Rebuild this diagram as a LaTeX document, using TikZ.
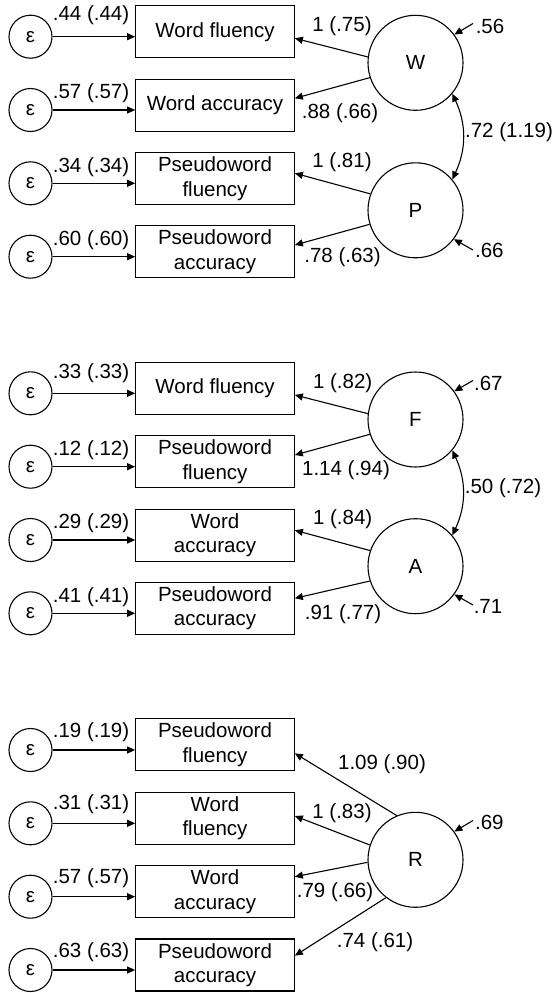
\documentclass[tikz,border=0pt]{standalone}
\usepackage{fontspec}
\setmainfont{Liberation Sans}
\usetikzlibrary{arrows.meta}
\begin{document}
\begin{tikzpicture}[x=1pt,y=-1pt,
  every node/.style={font=\fontsize{20.5}{24.5}\selectfont},
  obs/.style={draw, line width=1.1pt, minimum width=158.6pt, minimum height=52pt, align=center, inner sep=0pt},
  err/.style={draw, circle, line width=1.1pt, minimum size=43pt, inner sep=0pt},
  lat/.style={draw, circle, line width=1.1pt, minimum size=95pt, inner sep=0pt},
  lbl/.style={inner sep=0pt},
  arr/.style={line width=1.1pt, -{Triangle[length=8pt,width=7pt]}},
  dbl/.style={line width=1.1pt, {Triangle[length=8pt,width=7pt]}-{Triangle[length=8pt,width=7pt]}},
]
\useasboundingbox (0,0) rectangle (553,993);

% ---------------- Panel 1 ----------------
\node[obs] (t1) at (215,31.7) {Word fluency};
\node[obs] (t2) at (215,105.2) {Word accuracy};
\node[obs] (t3) at (215,178.5) {Pseudoword\\fluency};
\node[obs] (t4) at (215,251.8) {Pseudoword\\accuracy};
\node[err] (te1) at (30.5,36.7) {ε};
\node[err] (te2) at (30.5,110) {ε};
\node[err] (te3) at (30.5,183.3) {ε};
\node[err] (te4) at (30.5,256.7) {ε};
\draw[arr] (te1) -- (te1 -| t1.west);
\draw[arr] (te2) -- (te2 -| t2.west);
\draw[arr] (te3) -- (te3 -| t3.west);
\draw[arr] (te4) -- (te4 -| t4.west);
\node[lbl] (tl1) at (91,15) {.44 (.44)};
\node[lbl] (tl2) at (91,93) {.57 (.57)};
\node[lbl] (tl3) at (91,167) {.34 (.34)};
\node[lbl] (tl4) at (91,240) {.60 (.60)};
\node[lat] (W) at (415.5,62.8) {W};
\node[lat] (P) at (415.5,210.3) {P};
\draw[arr] (W.173.5) -- ([yshift=-6.6pt]t1.east);
\draw[arr] (W.198.6) -- ([yshift=6.9pt]t2.east);
\draw[arr] (P.160.6) -- ([yshift=5.2pt]t3.east);
\draw[arr] (P.197.7) -- ([yshift=6.8pt]t4.east);
\node[lbl] (tw1) at (342,26) {1 (.75)};
\node[lbl] (tw2) at (340,113.3) {.88 (.66)};
\node[lbl] (tp1) at (342,162.3) {1 (.81)};
\node[lbl] (tp2) at (342.5,257.3) {.78 (.63)};
\coordinate (rW) at (473,23.5);
\coordinate (rP) at (473,250);
\draw[arr] (rW) -- (W.36);
\draw[arr] (rP) -- (P.-37);
\node[lbl] (rWl) at (490,26.7) {.56};
\node[lbl] (rPl) at (489.3,250) {.66};
\draw[dbl] (W.-40) to[out=-65,in=65] (P.40);
\node[lbl] (cWP) at (509,131.7) {.72 (1.19)};

% ---------------- Panel 2 ----------------
\node[obs] (m1) at (215,388.3) {Word fluency};
\node[obs] (m2) at (215,461.7) {Pseudoword\\fluency};
\node[obs] (m3) at (215,535.3) {Word\\accuracy};
\node[obs] (m4) at (215,608.3) {Pseudoword\\accuracy};
\node[err] (me1) at (30.5,393.3) {ε};
\node[err] (me2) at (30.5,466.7) {ε};
\node[err] (me3) at (30.5,540) {ε};
\node[err] (me4) at (30.5,613.3) {ε};
\draw[arr] (me1) -- (me1 -| m1.west);
\draw[arr] (me2) -- (me2 -| m2.west);
\draw[arr] (me3) -- (me3 -| m3.west);
\draw[arr] (me4) -- (me4 -| m4.west);
\node[lbl] (ml1) at (91,373.3) {.33 (.33)};
\node[lbl] (ml2) at (91,450) {.12 (.12)};
\node[lbl] (ml3) at (91,523.3) {.29 (.29)};
\node[lbl] (ml4) at (91,596.7) {.41 (.41)};
\node[lat] (F) at (415.5,419.5) {F};
\node[lat] (A) at (415.5,566.2) {A};
\draw[arr] (F.173.5) -- ([yshift=-6.7pt]m1.east);
\draw[arr] (F.198.6) -- ([yshift=6.7pt]m2.east);
\draw[arr] (A.161.4) -- ([yshift=5pt]m3.east);
\draw[arr] (A.198.9) -- ([yshift=10pt]m4.east);
\node[lbl] (mf1) at (342.7,383.3) {1 (.82)};
\node[lbl] (mf2) at (346,470) {1.14 (.94)};
\node[lbl] (ma1) at (342.7,519.3) {1 (.84)};
\node[lbl] (ma2) at (343,614) {.91 (.77)};
\coordinate (rF) at (473,380.5);
\coordinate (rA) at (473,605);
\draw[arr] (rF) -- (F.36);
\draw[arr] (rA) -- (A.-36.5);
\node[lbl] (rFl) at (488.3,383.3) {.67};
\node[lbl] (rAl) at (488,606.7) {.71};
\draw[dbl] (F.-40) to[out=-65,in=65] (A.40);
\node[lbl] (cFA) at (503,488.3) {.50 (.72)};

% ---------------- Panel 3 ----------------
\node[obs] (b1) at (215,744.7) {Pseudoword\\fluency};
\node[obs] (b2) at (215,818.3) {Word\\fluency};
\node[obs] (b3) at (215,891.7) {Word\\accuracy};
\node[obs] (b4) at (215,965) {Pseudoword\\accuracy};
\node[err] (be1) at (30.5,750) {ε};
\node[err] (be2) at (30.5,823.3) {ε};
\node[err] (be3) at (30.5,896.7) {ε};
\node[err] (be4) at (30.5,970) {ε};
\draw[arr] (be1) -- (be1 -| b1.west);
\draw[arr] (be2) -- (be2 -| b2.west);
\draw[arr] (be3) -- (be3 -| b3.west);
\draw[arr] (be4) -- (be4 -| b4.west);
\node[lbl] (bl1) at (91,731.7) {.19 (.19)};
\node[lbl] (bl2) at (91,804.3) {.31 (.31)};
\node[lbl] (bl3) at (91,878.3) {.57 (.57)};
\node[lbl] (bl4) at (91,951.7) {.63 (.63)};
\node[lat] (R) at (415.5,859.8) {R};
\draw[arr] (R.113.2) -- ([yshift=-8.6pt]b1.east);
\draw[arr] (R.162.9) -- ([yshift=2.3pt]b2.east);
\draw[arr] (R.183) -- ([yshift=15pt]b3.east);
\draw[arr] (R.232.5) -- ([yshift=9.3pt]b4.east);
\node[lbl] (br1) at (382,764) {1.09 (.90)};
\node[lbl] (br2) at (342,812.7) {1 (.83)};
\node[lbl] (br3) at (335,891.7) {.79 (.66)};
\node[lbl] (br4) at (375,942.3) {.74 (.61)};
\coordinate (rR) at (473,820.5);
\draw[arr] (rR) -- (R.36.5);
\node[lbl] (rRl) at (489.3,822.7) {.69};
\end{tikzpicture}
\end{document}
